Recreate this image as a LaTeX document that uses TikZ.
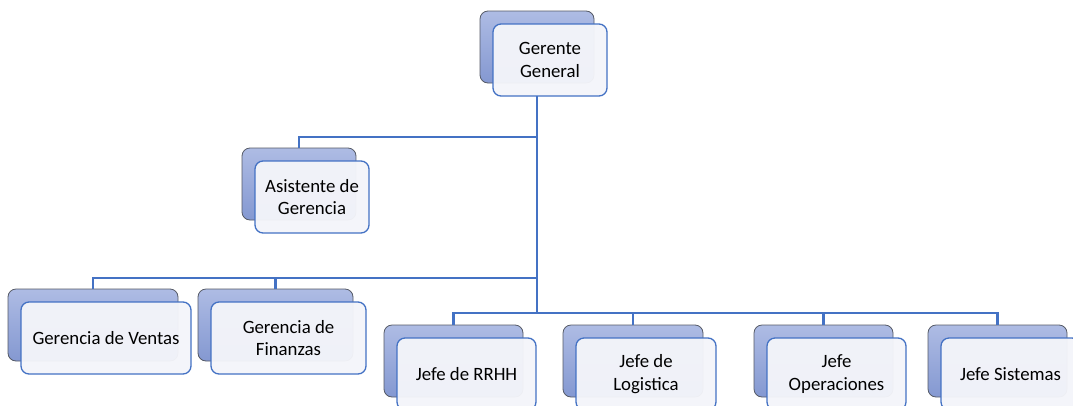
\documentclass[tikz,border=0pt]{standalone}
\usepackage{fontspec}
\setmainfont{Carlito}
\definecolor{linkblue}{HTML}{4472C4}
\definecolor{backtop}{HTML}{AEBCE4}
\definecolor{backbot}{HTML}{8498D1}
\definecolor{backline}{HTML}{555A66}
\definecolor{frontfill}{HTML}{F4F5FA}
\tikzset{
  backbox/.style={rounded corners=8pt, draw=backline, line width=0.8pt,
    top color=backtop, bottom color=backbot, minimum height=72pt,
    inner sep=0pt, outer sep=0pt},
  frontbox/.style={rounded corners=8pt, draw=linkblue, line width=1.3pt,
    fill=frontfill, fill opacity=0.96, text opacity=1, minimum height=72pt,
    inner sep=0pt, outer sep=0pt, align=center,
    font=\fontsize{18.8}{22.5}\selectfont},
  conn/.style={draw=linkblue, line width=2.6pt}
}
% #1 name, #2 left x, #3 top y, #4 width, #5 label
\newcommand\orgunit[5]{%
  \node[backbox, minimum width=#4pt] (#1b) at ({#2+#4/2},{#3+36}) {};
  \node[frontbox, minimum width=#4pt] (#1) at ({#2+13+#4/2},{#3+49}) {#5};
}
\begin{document}
\begin{tikzpicture}[x=1pt,y=-1pt]
\useasboundingbox (0,0) rectangle (1073,405);
\fill[white] (0,0) rectangle (1073,405);
\clip (0,0) rectangle (1073,405);

% boxes
\orgunit{gg}{480}{11}{114}{Gerente\\General}
\orgunit{as}{242}{148}{114}{Asistente de\\Gerencia}
\orgunit{ve}{8}{289}{170}{Gerencia de Ventas}
\orgunit{fi}{198}{289}{155}{Gerencia de\\Finanzas}
\orgunit{rr}{384}{325}{139}{Jefe de RRHH}
\orgunit{lo}{563}{325}{140}{Jefe de\\Logistica}
\orgunit{op}{754}{325}{139}{Jefe\\Operaciones}
\orgunit{si}{928}{325}{139}{Jefe Sistemas}

% bus points on the trunk
\coordinate (busA) at (ggb.south |- 0,137);
\coordinate (busB) at (ggb.south |- 0,278);
\coordinate (busC) at (ggb.south |- 0,313);

% connectors
\draw[conn] (ggb.south |- gg.south) -- (busC);
\draw[conn] (busA) -| (asb.north);
\draw[conn] (busB) -| (veb.north);
\draw[conn] (fib.north) -- (fib.north |- busB);
\draw[conn] (busC) -| (rrb.north);
\draw[conn] (busC) -| (sib.north);
\draw[conn] (lob.north) -- (lob.north |- busC);
\draw[conn] (opb.north) -- (opb.north |- busC);
\end{tikzpicture}
\end{document}
